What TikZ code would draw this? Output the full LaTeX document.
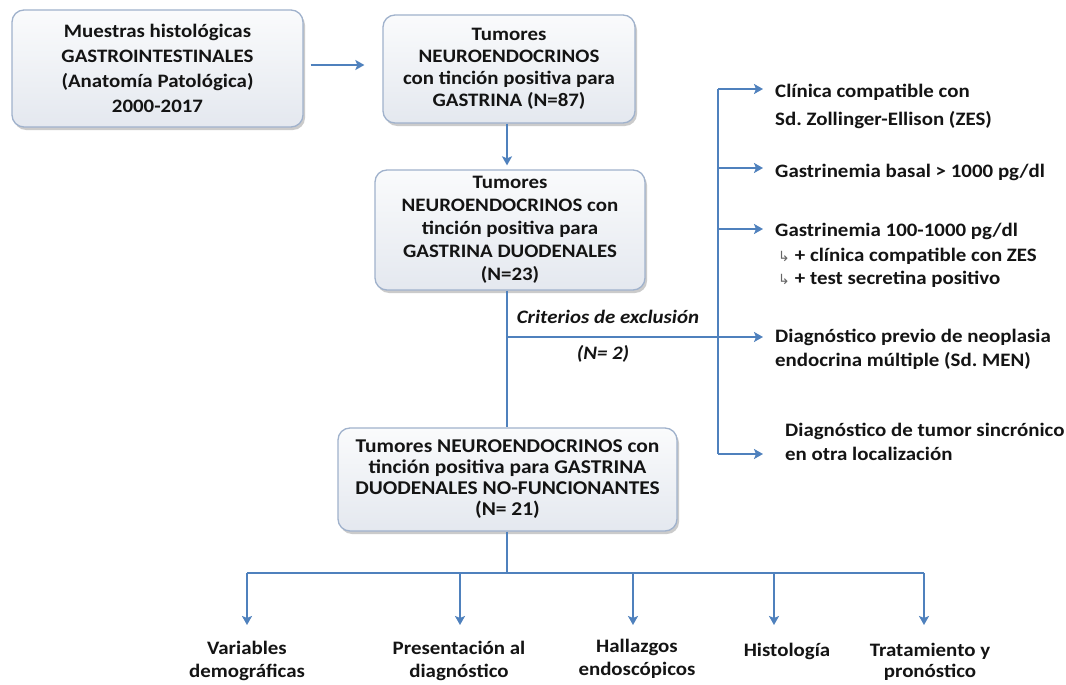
\documentclass[tikz,border=0pt]{standalone}
\usepackage{fontspec}
\setmainfont{Carlito}[FakeStretch=1.1]
\newfontfamily\symfont{DejaVu Sans}
\usetikzlibrary{arrows.meta,shadows}
\definecolor{arrowblue}{RGB}{79,129,189}
\definecolor{boxborder}{RGB}{160,178,204}
\definecolor{boxtop}{RGB}{250,251,252}
\definecolor{boxbot}{RGB}{228,232,239}
\definecolor{txt}{RGB}{20,20,20}
\frenchspacing
\begin{document}
\begin{tikzpicture}[x=1pt,y=-1pt,
  boxnode/.style={draw=boxborder, line width=1.3pt, rounded corners=12pt,
    top color=boxtop, bottom color=boxbot,
    drop shadow={shadow xshift=2pt,shadow yshift=-3pt,fill=black!45,opacity=0.45},
    align=center, font=\fontsize{19}{23}\selectfont\bfseries, inner sep=0pt, text=txt},
  conn/.style={draw=arrowblue, line width=2.6pt},
  arr/.style={conn, -{Stealth[length=9pt,width=10pt,inset=2pt]}},
  rlbl/.style={align=left, anchor=north west, inner sep=0pt, text=txt,
    font=\fontsize{19}{24}\selectfont\bfseries},
  olbl/.style={align=center, anchor=north, inner sep=0pt, text=txt,
    font=\fontsize{19}{23}\selectfont\bfseries},
  exlbl/.style={inner sep=0pt, text=txt, font=\fontsize{19}{23}\selectfont\bfseries\itshape},
  hook/.style={}
]
\useasboundingbox (0,0) rectangle (1066,685);
\fill[white] (0,0) rectangle (1066,685);

% boxes
\node[boxnode, minimum width=291pt, minimum height=117pt, font=\fontsize{19}{25}\selectfont\bfseries] (b1) at (157.5,68.5)
  {Muestras histológicas\\GASTROINTESTINALES\\(Anatomía Patológica)\\2000-2017};
\node[boxnode, minimum width=252pt, minimum height=108pt, font=\fontsize{19}{22}\selectfont\bfseries] (b2) at (509,69)
  {Tumores\\NEUROENDOCRINOS\\con tinción positiva para\\GASTRINA (N=87)};
\node[boxnode, minimum width=270pt, minimum height=120pt] (b3) at (510,230)
  {Tumores\\NEUROENDOCRINOS con\\tinción positiva para\\GASTRINA DUODENALES\\(N=23)};
\node[boxnode, minimum width=339pt, minimum height=103pt, font=\fontsize{19.5}{21}\selectfont\bfseries] (b4) at (507.5,479.5)
  {Tumores NEUROENDOCRINOS con\\tinción positiva para GASTRINA\\DUODENALES NO-FUNCIONANTES\\(N= 21)};

% coordinates
\coordinate (jx) at (507,337);
\coordinate (j1) at (718,89);
\coordinate (j2) at (718,168);
\coordinate (j3) at (718,229);
\coordinate (j5) at (718,454);
\coordinate (t1) at (763,89);
\coordinate (t2) at (763,168);
\coordinate (t3) at (763,229);
\coordinate (t4) at (763,337);
\coordinate (t5) at (763,454);
\coordinate (bj) at (507,573);
\coordinate (h1) at (247,573);
\coordinate (h2) at (460,573);
\coordinate (h3) at (633,573);
\coordinate (h4) at (774,573);
\coordinate (h5) at (924,573);
\coordinate (d1) at (247,625);
\coordinate (d2) at (460,625);
\coordinate (d3) at (633,625);
\coordinate (d4) at (774,625);
\coordinate (d5) at (924,625);

% right labels
\node[rlbl] (r1) at (775,84) {Clínica compatible con\\[4pt]Sd. Zollinger-Ellison (ZES)};
\node[rlbl] (r2) at (775,164) {Gastrinemia basal > 1000 pg/dl};
\node[rlbl] (r3) at (775,223) {Gastrinemia 100-1000 pg/dl\\[1pt]
  \hspace{3pt}{\symfont\mdseries\fontsize{14}{14}\selectfont\color{black!60}↳}\hspace{5pt}+ clínica compatible con ZES\\[-1pt]
  \hspace{3pt}{\symfont\mdseries\fontsize{14}{14}\selectfont\color{black!60}↳}\hspace{5pt}+ test secretina positivo};
\node[rlbl] (r4) at (775,329) {Diagnóstico previo de neoplasia\\endocrina múltiple (Sd. MEN)};
\node[rlbl] (r5) at (785,423) {Diagnóstico de tumor sincrónico\\en otra localización};

% exclusion labels
\node[exlbl] (ex1) at (608,317) {Criterios de exclusión};
\node[exlbl] (ex2) at (603,354) {(N= 2)};

% bottom labels
\node[olbl] (o1) at (247,641) {Variables\\demográficas};
\node[olbl] (o2) at (459,641) {Presentación al\\diagnóstico};
\node[olbl] (o3) at (637,639) {Hallazgos\\endoscópicos};
\node[olbl] (o4) at (787,643) {Histología};
\node[olbl] (o5) at (930,643) {Tratamiento y\\[-2pt]pronóstico};

% connectors
\draw[arr, shorten <=7pt, shorten >=18pt] (b1.east |- 0,65) -- (b2.west |- 0,65);
\draw[arr, shorten >=4pt] (b2.south -| jx) -- (b3.north -| jx);
\draw[conn] (b3.south -| jx) -- (b4.north -| jx);
\draw[arr] (jx) -- (t4);
\draw[conn] (j1) -- (j5);
\draw[arr] (j1) -- (t1);
\draw[arr] (j2) -- (t2);
\draw[arr] (j3) -- (t3);
\draw[arr] (j5) -- (t5);
\draw[conn] (b4.south -| bj) -- (bj);
\draw[conn] (h1) -- (h5);
\draw[arr] (h1) -- (d1);
\draw[arr] (h2) -- (d2);
\draw[arr] (h3) -- (d3);
\draw[arr] (h4) -- (d4);
\draw[arr] (h5) -- (d5);
\end{tikzpicture}
\end{document}
